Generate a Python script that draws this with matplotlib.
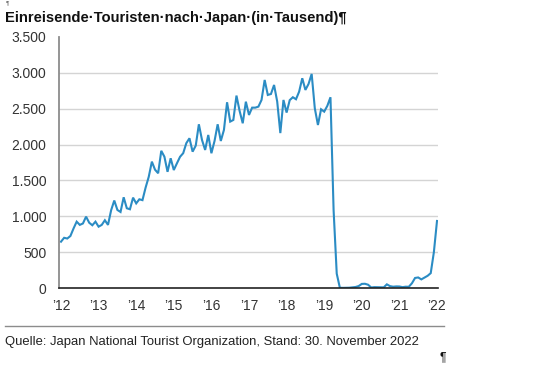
import numpy as np
import matplotlib
matplotlib.use("Agg")
from matplotlib import pyplot as plt

# Daten (Tausend Einreisende, monatlich, Nov 2012 bis Nov 2022)
werte = [
    646, 700, 690, 725, 830, 925, 880, 900, 995, 910, 875, 925,
    855, 880, 945, 880, 1085, 1220, 1088, 1060, 1265, 1112, 1098, 1260,
    1180, 1237, 1225, 1400, 1550, 1762, 1650, 1600, 1913, 1831, 1620, 1809,
    1645, 1739, 1830, 1880, 2020, 2088, 1901, 1985, 2283, 2064, 1925, 2134,
    1879, 2050, 2283, 2050, 2204, 2590, 2320, 2343, 2683, 2469, 2297, 2598,
    2413, 2515, 2515, 2529, 2622, 2901, 2692, 2705, 2831, 2600, 2160, 2622,
    2446, 2620, 2660, 2632, 2738, 2925, 2762, 2845, 2985, 2506, 2273, 2492,
    2459, 2540, 2660, 1085, 200, 3, 2, 3, 4, 9, 14, 27,
    57, 59, 46, 7, 12, 11, 10, 9, 51, 26, 18, 22,
    21, 12, 18, 17, 66, 140, 147, 120, 145, 170, 207, 499,
    935,
]
jahre = ["’12", "’13", "’14", "’15", "’16", "’17", "’18", "’19", "’20", "’21", "’22"]
y_ticks = [0, 500, 1000, 1500, 2000, 2500, 3000, 3500]

TEXT = "#333333"
LINIE = "#2b8cc4"

plt.rcParams["font.family"] = ["Liberation Sans", "DejaVu Sans"]

fig = plt.figure(figsize=(5.48, 3.68), dpi=100)
ax = fig.add_axes([59 / 548, 1 - 288 / 368, 379 / 548, 251 / 368])

monate = np.arange(len(werte))
ax.plot(monate, werte, color=LINIE, linewidth=1.5, solid_joinstyle="miter")

ax.set_xlim(-0.64, len(werte) - 1 + 0.32)
ax.set_ylim(0, 3500)

ax.set_xticks(np.linspace(0, len(werte) - 1, len(jahre)))
ax.set_xticklabels(jahre)
ax.set_yticks(y_ticks)
ax.set_yticklabels([f"{v:,}".replace(",", ".") for v in y_ticks])
ax.tick_params(length=0, labelsize=10, colors=TEXT)
ax.tick_params(axis="y", pad=9)
ax.tick_params(axis="x", pad=8)

for v in y_ticks[1:-1]:
    ax.axhline(v, color="#d4d4d4", linewidth=1.0, zorder=0)

for s in ["top", "right"]:
    ax.spines[s].set_visible(False)
ax.spines["left"].set_color("#8c8c8c")
ax.spines["left"].set_linewidth(1.3)
ax.spines["bottom"].set_color("#222222")
ax.spines["bottom"].set_linewidth(1.2)

# Titel und Quelle
fig.text(5 / 548, 1 - 18 / 368, "Einreisende·Touristen·nach·Japan·(in·Tausend)¶",
         fontsize=10.6, fontweight="bold", color="#111111", va="center", ha="left")
fig.text(6 / 548, 1 - 0.5 / 368, "¶", fontsize=4.5, color="#555555", va="top", ha="left")
fig.add_artist(plt.Line2D([5 / 548, 444 / 548], [1 - 326 / 368, 1 - 326 / 368],
                          color="#8c8c8c", linewidth=1.0))
fig.text(5 / 548, 1 - 342 / 368,
         "Quelle: Japan National Tourist Organization, Stand: 30. November 2022",
         fontsize=9.4, color="#222222", va="center", ha="left")
fig.text(440 / 548, 1 - 357 / 368, "¶", fontsize=9, color="#111111", va="center", ha="left")

fig.savefig("out.png", dpi=100)
